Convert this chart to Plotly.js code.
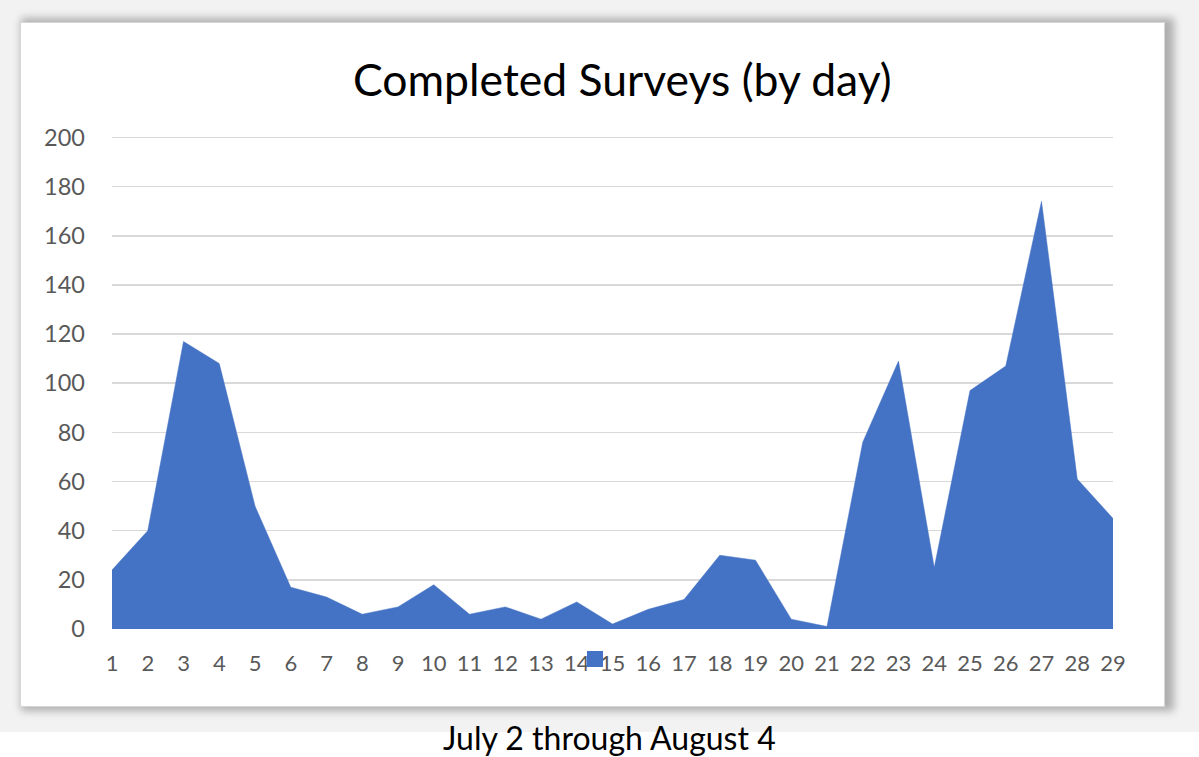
<!DOCTYPE html>
<html>
<head>
<meta charset="utf-8">
<script src="https://cdn.plot.ly/plotly-3.0.1.min.js"></script>
<style>
  html, body { margin:0; padding:0; background:#ffffff; width:1199px; height:757px; overflow:hidden; }
  #halo { position:absolute; left:0; top:0; width:1199px; height:732px; background:#f2f2f2; }
  #card { position:absolute; left:20px; top:22px; width:1143px; height:683px; background:#ffffff;
          border:1px solid #d6d6d6;
          box-shadow: 5px 0px 8px 4px rgba(0,0,0,0.28); }
  #chart { position:absolute; left:0; top:0; width:1199px; height:757px; }
</style>
</head>
<body>
<div id="halo"></div>
<div id="card"></div>
<div id="chart"></div>
<script>
const days = [1,2,3,4,5,6,7,8,9,10,11,12,13,14,15,16,17,18,19,20,21,22,23,24,25,26,27,28,29];
const surveys = [24,40,117,108,50,17,13,6,9,18,6,9,4,11,2,8,12,30,28,4,1,76,109,25,97,107,174,61,45];
const yTicks = [0,20,40,60,80,100,120,140,160,180,200];
const chartTitle = 'Completed Surveys (by day)';
const subTitle = 'July 2 through August 4';

const trace = {
  x: days,
  y: surveys,
  type: 'scatter',
  mode: 'lines',
  fill: 'tozeroy',
  fillcolor: '#4472C4',
  line: { color: '#4472C4', width: 0.5 },
  hoverinfo: 'skip',
  showlegend: false
};

const layout = {
  width: 1199,
  height: 757,
  paper_bgcolor: 'rgba(0,0,0,0)',
  plot_bgcolor: 'rgba(0,0,0,0)',
  margin: { l: 112, r: 86, t: 135, b: 128 },
  font: { family: 'Lato, "Open Sans", sans-serif', color: '#595959' },
  title: {
    text: chartTitle,
    font: { family: 'Lato, "Open Sans", sans-serif', size: 44.5, color: '#000000' },
    xref: 'container', x: 0.519, xanchor: 'center',
    yref: 'container', y: 0.894, yanchor: 'middle'
  },
  xaxis: {
    range: [1, 29],
    tickvals: days,
    ticktext: days.map(String),
    showgrid: false, zeroline: false, showline: false,
    ticks: '',
    ticklabelstandoff: 19,
    tickfont: { size: 22, color: '#595959' },
    fixedrange: true
  },
  yaxis: {
    range: [0, 201],
    tickvals: yTicks,
    showgrid: true, gridcolor: '#d9d9d9', gridwidth: 1.5,
    zeroline: false, showline: false,
    ticks: '',
    ticklabelstandoff: 26,
    tickfont: { size: 23.5, color: '#595959' },
    fixedrange: true
  },
  shapes: [
    { type: 'rect', xref: 'paper', yref: 'paper', layer: 'above',
      x0: 0.4745, x1: 0.4905, y0: -0.0769, y1: -0.0445,
      fillcolor: '#4472C4', line: { width: 0 } }
  ],
  annotations: [
    { text: subTitle, xref: 'paper', yref: 'paper', x: 0.4975, y: -0.2206,
      xanchor: 'center', yanchor: 'middle', showarrow: false,
      font: { family: 'Lato, "Open Sans", sans-serif', size: 32, color: '#000000' } }
  ]
};

Plotly.newPlot('chart', [trace], layout, { staticPlot: true, displayModeBar: false });
</script>
</body>
</html>
